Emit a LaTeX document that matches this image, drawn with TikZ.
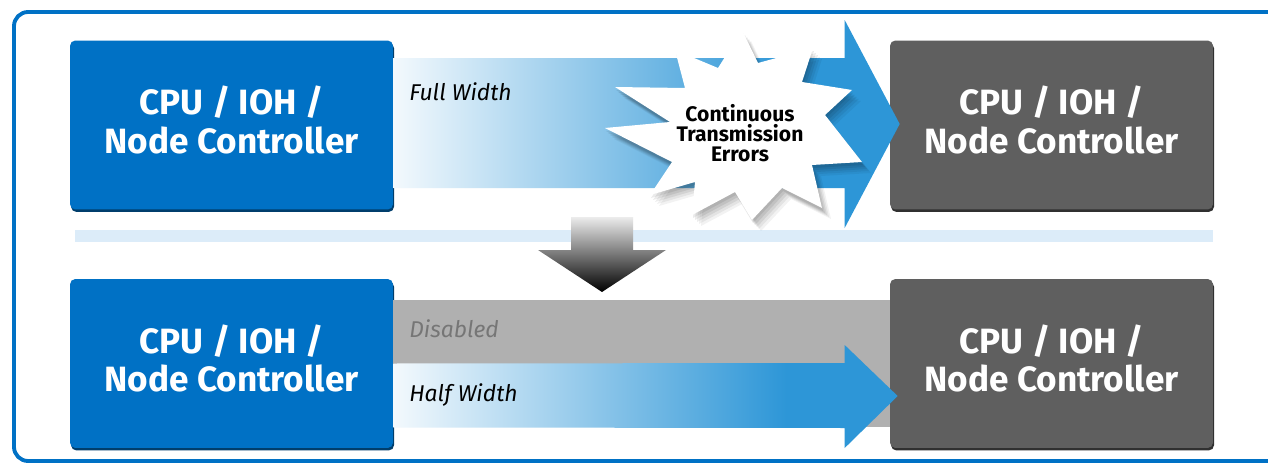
\documentclass[tikz,border=0pt]{standalone}
\usepackage{fontspec}
\setmainfont{Fira Sans}
\setsansfont{Fira Sans}
\usetikzlibrary{positioning,calc,arrows.meta}

\definecolor{intelblue}{RGB}{0,113,197}
\definecolor{boxgray}{RGB}{95,95,95}
\definecolor{linkblue}{RGB}{45,150,215}
\definecolor{linklight}{RGB}{243,249,253}
\definecolor{seplight}{RGB}{220,236,249}
\definecolor{disgray}{RGB}{176,176,176}
\definecolor{distext}{RGB}{118,118,118}

\pgfdeclarehorizontalshading{linkfade}{100bp}{color(0bp)=(linklight); color(25bp)=(linklight); color(64bp)=(linkblue); color(100bp)=(linkblue)}

\tikzset{
  ctrl/.style={rounded corners=3pt, minimum width=6.46cm, minimum height=3.38cm, inner sep=0pt,
    label={[ctrltext]center:{CPU / IOH /\\Node Controller}}},
  ctrltext/.style={text=white, align=center, yshift=2.8pt,
    font=\fontsize{20}{22}\selectfont\bfseries},
  ctrlblue/.style={ctrl, fill=intelblue,
    preaction={fill=intelblue!55!black, transform canvas={shift={(0.6pt,-1.4pt)}}}},
  ctrlgray/.style={ctrl, fill=boxgray,
    preaction={fill=boxgray!50!black, transform canvas={shift={(0.6pt,-1.4pt)}}}},
  lanelabel/.style={anchor=west, inner sep=0pt, font=\fontsize{13}{15}\selectfont\itshape},
}

\begin{document}
\begin{tikzpicture}[x=0.02cm,y=-0.02cm]
    \useasboundingbox (0,0) rectangle (1268,463);
    \clip (0,0) rectangle (1268,463);
    \fill[white] (0,0) rectangle (1268,463);
    % frame
    \draw[intelblue,line width=2.2pt,rounded corners=8pt] (14,12) rectangle (1320,461);
    % separator
    \fill[seplight] (75,230) rectangle (1213,242);

    % controllers
    \node[ctrlblue] (tl) at (231.5,125) {};
    \node[ctrlgray] (tr) at (1051.5,125) {};
    \node[ctrlblue] (bl) at (231.5,363.5) {};
    \node[ctrlgray] (br) at (1051.5,363.5) {};

    % full width link
    \coordinate (ftip) at ($(tr.west)+(10,-1)$);
    \shade[shading=linkfade] ($(tl.east)+(0,-67)$) -- ($(ftip)+(-55,-66)$) -- ($(ftip)+(-55,-104)$)
        -- (ftip) -- ($(ftip)+(-55,104)$) -- ($(ftip)+(-55,64)$) -- ($(tl.east)+(0,63)$) -- cycle;

    % errors
    \def\burst{(742,30) (758,63) (813,48) (802,82) (852,90) (825,115) (862,162) (812,165) (822,208)
        (782,188) (752,220) (735,192) (692,215) (695,182) (650,195) (672,162) (605,128) (670,122)
        (615,87) (685,88) (675,50) (718,68)}
    \foreach \s/\o in {9/0.05,7/0.06,5/0.07,3/0.08,1/0.08}
        \fill[black,opacity=\o,shift={(\s,\s+2)}] plot[sharp cycle] coordinates \burst;
    \fill[white] plot[sharp cycle] coordinates \burst;
    \node[align=center,inner sep=0pt,font=\fontsize{12}{11.5}\selectfont\bfseries] (err) at (740,133)
        {Continuous\\Transmission\\Errors};

    % step down
    \coordinate (dtop) at (602,217);
    \coordinate (dtip) at (602,292);
    \shade[top color=gray!15,bottom color=black] ($(dtop)+(-31,0)$) -- ($(dtop)+(31,0)$) -- ($(dtop)+(31,33)$)
        -- ($(dtop)+(64,33)$) -- (dtip) -- ($(dtop)+(-64,33)$) -- ($(dtop)+(-31,33)$) -- cycle;

    % disabled lane and half width link
    \fill[disgray] ($(bl.east)+(0,-63.5)$) rectangle ($(br.west)+(0,63.5)$);
    \coordinate (htip) at ($(br.west)+(8,32.5)$);
    \shade[shading=linkfade] ($(bl.east)+(0,0)$) -- ($(htip)+(-53,-33)$) -- ($(htip)+(-53,-51)$)
        -- (htip) -- ($(htip)+(-53,52)$) -- ($(htip)+(-53,32)$) -- ($(bl.east)+(0,64)$) -- cycle;

    % labels
    \node[lanelabel] (fw) at (409,92) {Full Width};
    \node[lanelabel,text=distext] (dis) at (409,329) {Disabled};
    \node[lanelabel] (hw) at (409,395) {Half Width};
\end{tikzpicture}
\end{document}
